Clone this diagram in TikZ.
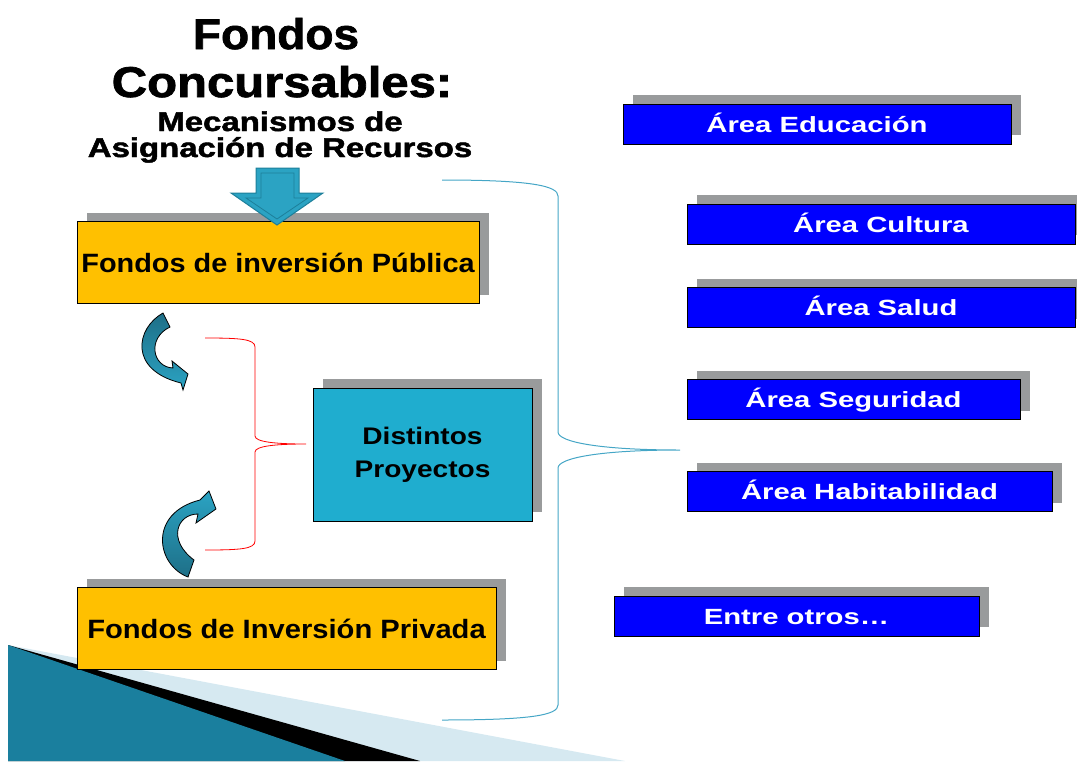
\documentclass[tikz,border=0pt]{standalone}
\usepackage{fontspec}
\setmainfont{Liberation Sans}
\newfontfamily\gruesa{Liberation Sans}[BoldFeatures={FakeBold=1.6}]
\usepackage{graphicx}
\usepackage{tikz}
\usetikzlibrary{positioning}
\usetikzlibrary{shadows}

\definecolor{fondoyellow}{HTML}{FFC000}
\definecolor{sombra}{HTML}{999B9C}
\definecolor{proyteal}{HTML}{1FADCF}
\definecolor{areablue}{HTML}{0000FF}
\definecolor{flechateal}{HTML}{2BA3C3}
\definecolor{flechaosc}{HTML}{1E6F87}
\definecolor{flechaborde}{HTML}{1D7F9A}
\definecolor{llave}{HTML}{45A6C6}
\definecolor{celeste}{HTML}{D6E9F1}
\definecolor{cunaosc}{HTML}{1A7F9E}
\definecolor{cunaclara}{HTML}{5EC0DC}

\newcommand{\ancho}[2]{\scalebox{#1}[1]{#2}}

\tikzset{%
  conSombra/.style = {general shadow={fill=sombra, draw=none,
    shadow xshift=10pt, shadow yshift=9pt}},
  fondo/.style    = {draw, line width=1pt, fill=fondoyellow, minimum height=82pt,
    font=\fontsize{26.5}{30}\selectfont\bfseries, text height=19pt,
    text depth=0pt, conSombra}, % Fondos box
  proyecto/.style = {draw, line width=1pt, fill=proyteal, minimum width=219pt,
    minimum height=133pt, align=center,
    font=\fontsize{24}{33}\selectfont\bfseries, conSombra},
  area/.style     = {draw, line width=1pt, fill=areablue, text=white,
    minimum height=40pt, font=\fontsize{22}{26}\selectfont\bfseries,
    text height=16pt, text depth=0pt, conSombra}, % Area box
  titulo/.style   = {anchor=base, inner sep=0pt},
  curva/.style    = {draw=black, line width=0.8pt}
}

\begin{document}
\begin{tikzpicture}[x=1pt, y=-1pt]

  \useasboundingbox (0,0) rectangle (1077,761);

  % wedge bottom left
  \fill[celeste] (8,645) -- (625,761) -- (8,761) -- cycle;
  \fill[black] (8,645) -- (420,761) -- (8,761) -- cycle;
  \shade[left color=cunaosc, middle color=cunaclara, right color=cunaosc]
    (8,645) -- (345,761) -- (8,761) -- cycle;

  % title
  \draw node at (276,49) [titulo, font=\fontsize{43}{50}\selectfont\gruesa\bfseries] (tit1) {\ancho{1.07}{Fondos}};
  \draw node at (282,97) [titulo, font=\fontsize{43}{50}\selectfont\gruesa\bfseries] (tit2) {\ancho{1.14}{Concursables:}};
  \draw node at (280,131) [titulo, font=\fontsize{27}{32}\selectfont\gruesa\bfseries] (tit3) {\ancho{1.22}{Mecanismos de}};
  \draw node at (280,157) [titulo, font=\fontsize{27}{32}\selectfont\gruesa\bfseries] (tit4) {\ancho{1.22}{Asignación de Recursos}};

  % boxes
  \draw node at (278,262.5) [fondo, minimum width=402pt] (publica) {\ancho{1.09}{Fondos de inversión Pública}};
  \draw node at (286.5,628.5) [fondo, minimum width=419pt] (privada) {\ancho{1.10}{Fondos de Inversión Privada}};
  \draw node at (422.5,454.5) [proyecto] (proyectos) {\ancho{1.17}{Distintos}\\\ancho{1.17}{Proyectos}};

  \draw node at (817,124) [area, minimum width=388pt] (educacion) {\ancho{1.33}{Área Educación}};
  \draw node at (881,224) [area, minimum width=388pt] (cultura) {\ancho{1.33}{Área Cultura}};
  \draw node at (881,307.5) [area, minimum width=388pt] (salud) {\ancho{1.33}{Área Salud}};
  \draw node at (853.5,399.5) [area, minimum width=333pt] (seguridad) {\ancho{1.33}{Área Seguridad}};
  \draw node at (869.5,491.5) [area, minimum width=365pt] (habita) {\ancho{1.33}{Área Habitabilidad}};
  \draw node at (796.5,616) [area, minimum width=365pt] (otros) {\ancho{1.33}{Entre otros…}};

  % block arrow title -> publica
  \draw[fill=flechateal, draw=flechaborde, line width=1pt] (256,168) -- (299,168) -- (299,193) -- (323,193)
    -- (277,225) -- (231,193) -- (256,193) -- cycle;
  \draw[flechaborde, line width=0.8pt] (261,173) -- (294,173) -- (294,198) -- (308,198)
    -- (277,219) -- (246,198) -- (261,198) -- cycle;

  % curved arrows
  \shadedraw[curva, top color=flechaosc, bottom color=flechateal]
    (163,313) .. controls (136,328) and (128,370) .. (181,383) -- (183,390) -- (188,374)
    -- (172,361) -- (173,368) .. controls (152,367) and (147,338) .. (170,327) -- cycle;
  \shadedraw[curva, top color=flechateal, bottom color=flechaosc]
    (188,577) .. controls (156,565) and (148,513) .. (200,500) -- (209,491) -- (216,509)
    -- (196,523) -- (198,514) .. controls (177,514) and (167,540) .. (194,560) -- cycle;

  % red brace
  \coordinate (rojoA) at (205,338);
  \coordinate (rojoB) at (205,550);
  \coordinate (rojoP) at (306,444);
  \draw[red, line width=0.8pt] (rojoA) .. controls +(35,0) and +(0,-8) .. (255,347) -- (255,436)
    .. controls +(0,6) and +(-30,0) .. (rojoP) .. controls +(-30,0) and +(0,-6) .. (255,452)
    -- (255,541) .. controls +(0,8) and +(35,0) .. (rojoB);

  % teal brace
  \coordinate (llaveA) at (442,180);
  \coordinate (llaveB) at (442,720);
  \coordinate (llaveP) at (680,450);
  \draw[llave, line width=1pt] (llaveA) .. controls +(90,0) and +(0,-10) .. (558,196) -- (558,432)
    .. controls +(0,10) and +(-80,0) .. (llaveP) .. controls +(-80,0) and +(0,-10) .. (558,468)
    -- (558,705) .. controls +(0,10) and +(90,0) .. (llaveB);

\end{tikzpicture}
\end{document}
